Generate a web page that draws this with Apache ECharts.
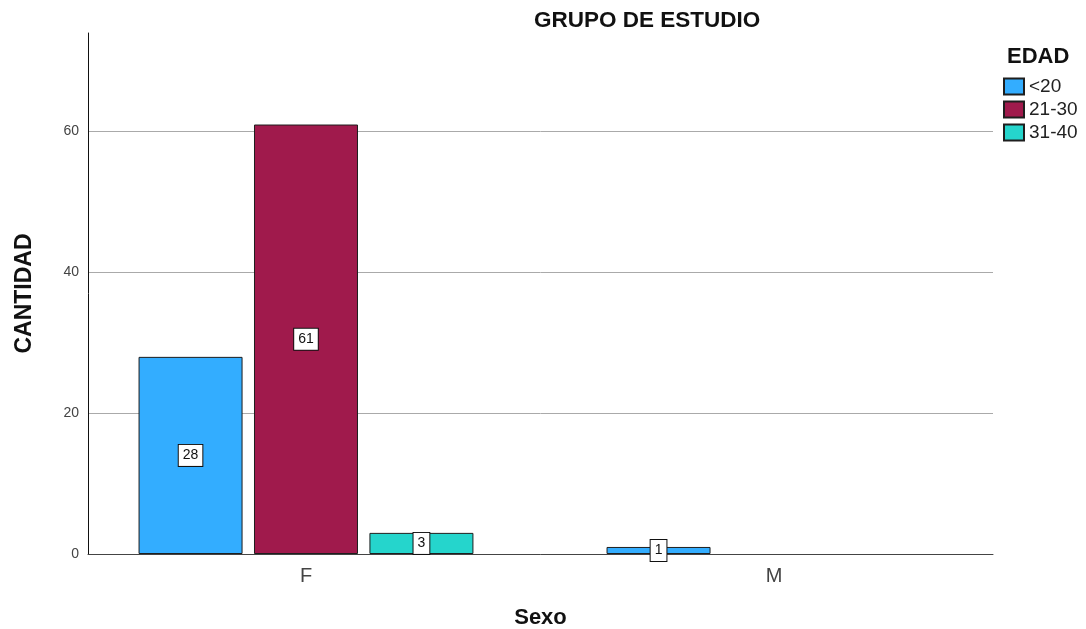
<!DOCTYPE html>
<html>
<head>
<meta charset="utf-8">
<script src="https://cdn.jsdelivr.net/npm/echarts@6/dist/echarts.min.js"></script>
<style>
html,body{margin:0;padding:0;background:#fff;}
#chart{width:1086px;height:629px;}
</style>
</head>
<body>
<div id="chart"></div>
<script>
// Data
const categories = ['F', 'M'];
const categoryPositions = [1, 2];
const seriesNames = ['<20', '21-30', '31-40'];
const values_lt20 = [28, 1];
const values_21_30 = [61, null];
const values_31_40 = [3, null];
const yTicks = [0, 20, 40, 60];
const colors = ['#33adff', '#a01a4c', '#25d5cc'];

const allValues = [values_lt20, values_21_30, values_31_40];

const chart = echarts.init(document.getElementById('chart'), null, {renderer: 'canvas'});
const FONT = 'Liberation Sans, Arial, sans-serif';

const series = seriesNames.map((name, i) => ({
  name: name,
  type: 'bar',
  barWidth: 104,
  barGap: '11%',
  data: categoryPositions.map((p, j) => [p, allValues[i][j]]).filter(d => d[1] !== null),
  itemStyle: {color: colors[i], borderColor: '#1e1e1e', borderWidth: 1},
  label: {
    show: true,
    position: 'inside',
    color: '#111',
    fontFamily: FONT,
    fontSize: 14,
    backgroundColor: '#fff',
    borderColor: '#111',
    borderWidth: 1,
    padding: [4, 4, 3, 4]
  },
  emphasis: {disabled: true},
  animation: false
}));

chart.setOption({
  animation: false,
  backgroundColor: '#fff',
  grid: {left: 88, right: 93, top: 33, bottom: 75, containLabel: false, outerBoundsMode: 'none'},
  graphic: [
    {type: 'text', left: 655 - 121, top: 9, style: {text: 'GRUPO DE ESTUDIO', font: 'bold 22.5px ' + FONT, fill: '#111'}},
    {type: 'text', left: 1007, top: 46, style: {text: 'EDAD', font: 'bold 22px ' + FONT, fill: '#111'}}
  ],
  legend: {
    orient: 'vertical',
    left: 1003,
    top: 77,
    padding: 0,
    itemWidth: 20,
    itemHeight: 16,
    itemGap: 4,
    icon: 'rect',
    textStyle: {fontFamily: FONT, fontSize: 19, color: '#222'},
    data: seriesNames
  },
  xAxis: {
    type: 'value',
    min: 0.5342,
    max: 2.468,
    name: 'Sexo',
    nameLocation: 'middle',
    nameGap: 53,
    nameTextStyle: {fontFamily: FONT, fontSize: 22, fontWeight: 'bold', color: '#111'},
    axisLine: {show: true, lineStyle: {color: '#444', width: 1}},
    axisTick: {show: false},
    splitLine: {show: false},
    axisLabel: {
      customValues: categoryPositions,
      formatter: v => categories[categoryPositions.indexOf(Math.round(v))] || '',
      fontFamily: FONT,
      fontSize: 20,
      color: '#444',
      margin: 12
    }
  },
  yAxis: {
    type: 'value',
    min: 0,
    max: 74,
    interval: 20,
    name: 'CANTIDAD',
    nameLocation: 'middle',
    nameGap: 52,
    nameRotate: 90,
    nameTextStyle: {fontFamily: FONT, fontSize: 23, fontWeight: 'bold', color: '#111'},
    axisLine: {show: true, lineStyle: {color: '#111', width: 1}},
    axisTick: {show: false},
    axisLabel: {
      customValues: yTicks,
      fontFamily: FONT,
      fontSize: 14,
      color: '#444',
      margin: 9
    },
    splitLine: {show: true, showMaxLine: false, lineStyle: {color: '#aaa', width: 1}}
  },
  series: series
});
</script>
</body>
</html>
